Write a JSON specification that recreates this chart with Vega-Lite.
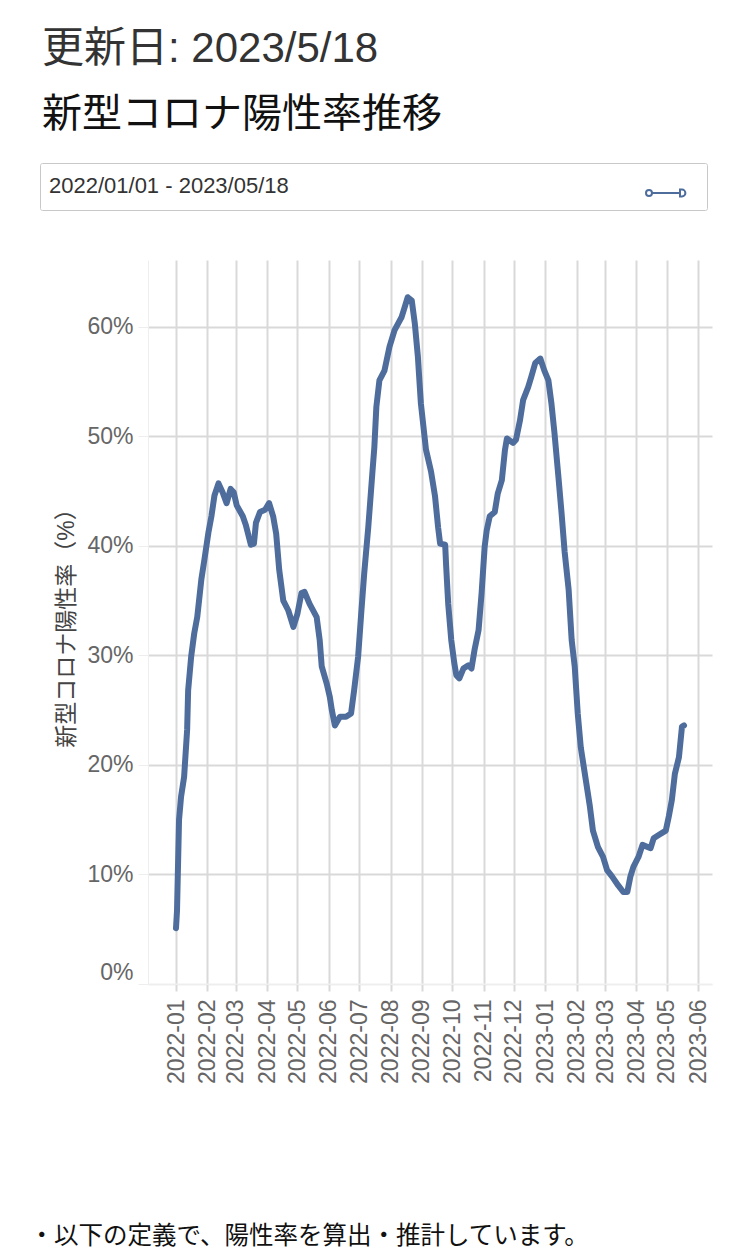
{
  "$schema": "https://vega.github.io/schema/vega-lite/v6.json",
  "width": 564,
  "height": 724,
  "autosize": {"type": "none"},
  "padding": {"left": 148, "top": 260, "right": 38, "bottom": 265},
  "background": "#ffffff",
  "title": {
    "text": "更新日: 2023/5/18",
    "subtitle": "新型コロナ陽性率推移",
    "anchor": "start",
    "frame": "group",
    "dx": -106,
    "offset": 27,
    "fontSize": 42,
    "fontWeight": "normal",
    "color": "#333333",
    "subtitleFontSize": 40,
    "subtitleColor": "#111111",
    "subtitlePadding": 24
  },
  "data": {
    "values": [
      {"date": "2022-01-01", "rate": 0.051},
      {"date": "2022-01-02", "rate": 0.067},
      {"date": "2022-01-04", "rate": 0.150},
      {"date": "2022-01-06", "rate": 0.171},
      {"date": "2022-01-09", "rate": 0.189},
      {"date": "2022-01-12", "rate": 0.232},
      {"date": "2022-01-13", "rate": 0.268},
      {"date": "2022-01-16", "rate": 0.299},
      {"date": "2022-01-19", "rate": 0.320},
      {"date": "2022-01-22", "rate": 0.335},
      {"date": "2022-01-26", "rate": 0.369},
      {"date": "2022-01-29", "rate": 0.387},
      {"date": "2022-02-02", "rate": 0.412},
      {"date": "2022-02-05", "rate": 0.427},
      {"date": "2022-02-08", "rate": 0.446},
      {"date": "2022-02-12", "rate": 0.457},
      {"date": "2022-02-16", "rate": 0.449},
      {"date": "2022-02-20", "rate": 0.439},
      {"date": "2022-02-24", "rate": 0.452},
      {"date": "2022-02-27", "rate": 0.449},
      {"date": "2022-03-02", "rate": 0.437},
      {"date": "2022-03-08", "rate": 0.427},
      {"date": "2022-03-11", "rate": 0.419},
      {"date": "2022-03-16", "rate": 0.401},
      {"date": "2022-03-19", "rate": 0.402},
      {"date": "2022-03-21", "rate": 0.421},
      {"date": "2022-03-25", "rate": 0.431},
      {"date": "2022-03-30", "rate": 0.433},
      {"date": "2022-04-03", "rate": 0.439},
      {"date": "2022-04-07", "rate": 0.427},
      {"date": "2022-04-10", "rate": 0.411},
      {"date": "2022-04-13", "rate": 0.378},
      {"date": "2022-04-17", "rate": 0.350},
      {"date": "2022-04-22", "rate": 0.341},
      {"date": "2022-04-27", "rate": 0.326},
      {"date": "2022-05-01", "rate": 0.338},
      {"date": "2022-05-05", "rate": 0.357},
      {"date": "2022-05-08", "rate": 0.358},
      {"date": "2022-05-13", "rate": 0.347},
      {"date": "2022-05-20", "rate": 0.335},
      {"date": "2022-05-23", "rate": 0.314},
      {"date": "2022-05-25", "rate": 0.290},
      {"date": "2022-05-30", "rate": 0.274},
      {"date": "2022-06-02", "rate": 0.262},
      {"date": "2022-06-04", "rate": 0.250},
      {"date": "2022-06-07", "rate": 0.236},
      {"date": "2022-06-12", "rate": 0.244},
      {"date": "2022-06-18", "rate": 0.244},
      {"date": "2022-06-23", "rate": 0.247},
      {"date": "2022-06-26", "rate": 0.268},
      {"date": "2022-06-30", "rate": 0.299},
      {"date": "2022-07-03", "rate": 0.338},
      {"date": "2022-07-06", "rate": 0.375},
      {"date": "2022-07-10", "rate": 0.417},
      {"date": "2022-07-14", "rate": 0.466},
      {"date": "2022-07-16", "rate": 0.490},
      {"date": "2022-07-18", "rate": 0.527},
      {"date": "2022-07-21", "rate": 0.551},
      {"date": "2022-07-26", "rate": 0.560},
      {"date": "2022-07-31", "rate": 0.582},
      {"date": "2022-08-05", "rate": 0.597},
      {"date": "2022-08-12", "rate": 0.609},
      {"date": "2022-08-15", "rate": 0.618},
      {"date": "2022-08-18", "rate": 0.627},
      {"date": "2022-08-22", "rate": 0.624},
      {"date": "2022-08-25", "rate": 0.603},
      {"date": "2022-08-28", "rate": 0.573},
      {"date": "2022-08-31", "rate": 0.530},
      {"date": "2022-09-05", "rate": 0.488},
      {"date": "2022-09-10", "rate": 0.468},
      {"date": "2022-09-14", "rate": 0.445},
      {"date": "2022-09-17", "rate": 0.417},
      {"date": "2022-09-19", "rate": 0.402},
      {"date": "2022-09-24", "rate": 0.401},
      {"date": "2022-09-25", "rate": 0.381},
      {"date": "2022-09-27", "rate": 0.347},
      {"date": "2022-09-30", "rate": 0.314},
      {"date": "2022-10-03", "rate": 0.293},
      {"date": "2022-10-05", "rate": 0.282},
      {"date": "2022-10-08", "rate": 0.279},
      {"date": "2022-10-12", "rate": 0.288},
      {"date": "2022-10-17", "rate": 0.291},
      {"date": "2022-10-20", "rate": 0.288},
      {"date": "2022-10-23", "rate": 0.305},
      {"date": "2022-10-27", "rate": 0.323},
      {"date": "2022-10-30", "rate": 0.357},
      {"date": "2022-11-02", "rate": 0.399},
      {"date": "2022-11-04", "rate": 0.414},
      {"date": "2022-11-07", "rate": 0.427},
      {"date": "2022-11-12", "rate": 0.431},
      {"date": "2022-11-15", "rate": 0.448},
      {"date": "2022-11-19", "rate": 0.460},
      {"date": "2022-11-22", "rate": 0.487},
      {"date": "2022-11-24", "rate": 0.498},
      {"date": "2022-11-30", "rate": 0.494},
      {"date": "2022-12-03", "rate": 0.497},
      {"date": "2022-12-07", "rate": 0.515},
      {"date": "2022-12-10", "rate": 0.533},
      {"date": "2022-12-15", "rate": 0.545},
      {"date": "2022-12-18", "rate": 0.554},
      {"date": "2022-12-22", "rate": 0.567},
      {"date": "2022-12-27", "rate": 0.571},
      {"date": "2022-12-31", "rate": 0.560},
      {"date": "2023-01-04", "rate": 0.551},
      {"date": "2023-01-07", "rate": 0.530},
      {"date": "2023-01-10", "rate": 0.503},
      {"date": "2023-01-14", "rate": 0.462},
      {"date": "2023-01-17", "rate": 0.430},
      {"date": "2023-01-20", "rate": 0.395},
      {"date": "2023-01-24", "rate": 0.360},
      {"date": "2023-01-27", "rate": 0.314},
      {"date": "2023-01-30", "rate": 0.290},
      {"date": "2023-02-02", "rate": 0.247},
      {"date": "2023-02-05", "rate": 0.216},
      {"date": "2023-02-10", "rate": 0.186},
      {"date": "2023-02-14", "rate": 0.162},
      {"date": "2023-02-17", "rate": 0.140},
      {"date": "2023-02-22", "rate": 0.125},
      {"date": "2023-02-27", "rate": 0.116},
      {"date": "2023-03-03", "rate": 0.104},
      {"date": "2023-03-08", "rate": 0.098},
      {"date": "2023-03-14", "rate": 0.090},
      {"date": "2023-03-19", "rate": 0.084},
      {"date": "2023-03-23", "rate": 0.084},
      {"date": "2023-03-26", "rate": 0.098},
      {"date": "2023-03-29", "rate": 0.107},
      {"date": "2023-04-03", "rate": 0.116},
      {"date": "2023-04-07", "rate": 0.127},
      {"date": "2023-04-15", "rate": 0.124},
      {"date": "2023-04-18", "rate": 0.133},
      {"date": "2023-04-23", "rate": 0.136},
      {"date": "2023-04-30", "rate": 0.140},
      {"date": "2023-05-03", "rate": 0.153},
      {"date": "2023-05-06", "rate": 0.168},
      {"date": "2023-05-09", "rate": 0.192},
      {"date": "2023-05-13", "rate": 0.207},
      {"date": "2023-05-16", "rate": 0.235},
      {"date": "2023-05-18", "rate": 0.236}
    ]
  },
  "mark": {"type": "line", "strokeWidth": 6, "strokeJoin": "round", "strokeCap": "round"},
  "encoding": {
    "x": {
      "field": "date",
      "type": "temporal",
      "scale": {"padding": 28},
      "axis": {
        "format": "%Y-%m",
        "tickCount": {"interval": "month", "step": 1},
        "labelAngle": 270,
        "labelFontSize": 23,
        "labelColor": "#666666",
        "labelPadding": 8,
        "labelOverlap": false,
        "labelFlush": false,
        "tickSize": 7,
        "tickWidth": 2,
        "tickColor": "#d9d9d9",
        "domainColor": "#eeeeee",
        "gridColor": "#d9d9d9",
        "gridWidth": 2,
        "title": "・以下の定義で、陽性率を算出・推計しています。",
        "titleFontSize": 24.5,
        "titleFontWeight": "normal",
        "titleColor": "#111111",
        "titleAnchor": "start",
        "titleAlign": "left",
        "titleBaseline": "alphabetic",
        "titleX": -119,
        "titleY": 259
      }
    },
    "y": {
      "field": "rate",
      "type": "quantitative",
      "scale": {"domain": [0, 0.661], "nice": false},
      "axis": {
        "values": [0, 0.1, 0.2, 0.3, 0.4, 0.5, 0.6],
        "format": ".0%",
        "labelFontSize": 23,
        "labelColor": "#666666",
        "labelPadding": 5,
        "labelFlush": true,
        "tickSize": 10,
        "tickColor": "#eeeeee",
        "domainColor": "#eeeeee",
        "gridColor": {"condition": {"test": "datum.value === 0", "value": "#f0f0f0"}, "value": "#d9d9d9"},
        "gridWidth": 2,
        "title": "新型コロナ陽性率（%）",
        "titleFontSize": 23,
        "titleFontWeight": "normal",
        "titleColor": "#444444",
        "titlePadding": 8
      }
    },
    "color": {
      "datum": "期間",
      "type": "nominal",
      "scale": {"range": ["#4e6d9d"]},
      "legend": {
        "orient": "none",
        "legendX": -108,
        "legendY": -97,
        "direction": "horizontal",
        "title": "2022/01/01 - 2023/05/18",
        "titleOrient": "left",
        "titleLimit": 500,
        "titleFontSize": 22,
        "titleFontWeight": "normal",
        "titleColor": "#333333",
        "titlePadding": 356,
        "padding": 9,
        "strokeColor": "#c8c8c8",
        "fillColor": "#ffffff",
        "cornerRadius": 2,
        "labelExpr": "''",
        "labelOffset": 11,
        "labelFontSize": 1,
        "symbolType": "M -1 0 A 0.15 0.15 0 1 1 -0.7 0 A 0.15 0.15 0 1 1 -1 0 Z M -0.7 0 L 0.7 0 M 0.7 -0.17 L 0.8 -0.17 A 0.17 0.17 0 0 1 0.8 0.17 L 0.7 0.17 Z",
        "symbolSize": 1600,
        "symbolStrokeColor": "#555555",
        "symbolStrokeWidth": 2,
        "symbolFillColor": "#ffffff",
        "symbolOffset": 0,
        "encode": {
          "symbols": {
            "update": {
              "stroke": {"value": "#555555"},
              "fill": {"value": "#ffffff"},
              "strokeWidth": {"value": 2}
            }
          }
        }
      }
    }
  },
  "config": {
    "font": "Liberation Sans, Noto Sans CJK JP",
    "view": {"stroke": null}
  }
}
